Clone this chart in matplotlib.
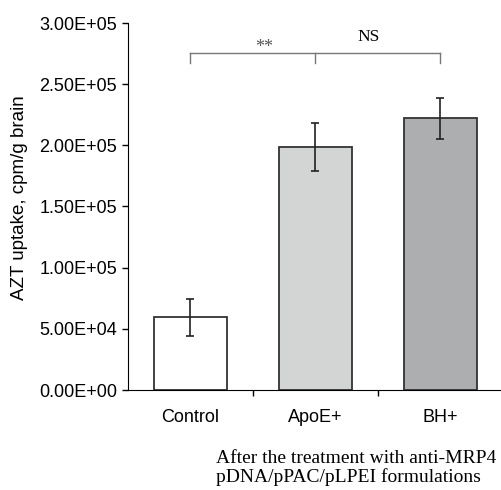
import matplotlib.pyplot as plt

# data
groups = ["Control", "ApoE+", "BH+"]
uptake = [59500, 198500, 222000]
err = [15000, 19500, 17000]
colors = ["#ffffff", "#d3d5d4", "#adaeb0"]
yticks = [0, 50000, 100000, 150000, 200000, 250000, 300000]
ytick_labels = ["0.00E+00", "5.00E+04", "1.00E+05", "1.50E+05",
                "2.00E+05", "2.50E+05", "3.00E+05"]

plt.rcParams["font.family"] = "Liberation Sans"

fig = plt.figure(figsize=(5.02, 4.90), dpi=100)
ax = fig.add_axes([128 / 502, 100 / 490, 375 / 502, 367 / 490])

x = range(len(groups))
ax.bar(x, uptake, width=0.585, color=colors, edgecolor="#333333", linewidth=1.3, zorder=2)
ax.errorbar(x, uptake, yerr=err, fmt="none", ecolor="#222222", elinewidth=1.2,
            capsize=3, capthick=1.2, zorder=3)

ax.set_xlim(-0.5, 2.5)
ax.set_ylim(0, 300000)
ax.set_yticks(yticks)
ax.set_yticklabels(ytick_labels, fontsize=13)
ax.set_xticks([0.5, 1.5, 2.5])
ax.set_xticklabels([])
ax.set_xticks(list(x), minor=True)
ax.set_xticklabels(groups, minor=True, fontsize=13)
ax.tick_params(axis="x", which="minor", length=0, pad=14)
ax.tick_params(axis="both", which="major", length=4, width=1, direction="out", pad=4)
ax.spines["top"].set_visible(False)
ax.spines["right"].set_visible(False)

# y label placed by figure coords
fig.text(20 / 502, 1 - 198 / 490, "AZT uptake, cpm/g brain", rotation=90,
         ha="center", va="center", fontsize=13.5)

# significance bracket
by = 275700
tick = 8000
ax.plot([0, 2], [by, by], color="#777777", lw=1, clip_on=False)
for xi in [0, 1, 2]:
    ax.plot([xi, xi], [by, by - tick], color="#777777", lw=1, clip_on=False)
ax.text(0.588, by + 800, "**", ha="center", va="baseline", fontsize=13,
        family="Liberation Serif", color="#555555")
ax.text(1.428, 284900, "NS", ha="center", va="baseline", fontsize=12.5,
        family="Liberation Serif")

fig.text(216 / 502, 1 - 482 / 490, "After the treatment with anti-MRP4\npDNA/pPAC/pLPEI formulations",
         ha="left", va="baseline", fontsize=14, family="Liberation Serif", linespacing=1.05)

plt.savefig("out.png", dpi=100)
